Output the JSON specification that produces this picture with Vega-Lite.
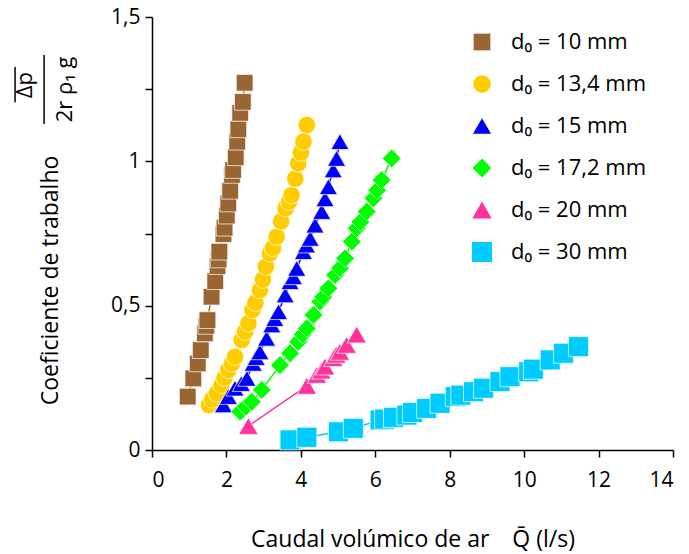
{
  "$schema": "https://vega.github.io/schema/vega-lite/v6.json",
  "width": 521,
  "height": 433,
  "autosize": {"type": "none"},
  "padding": {"left": 152, "top": 17, "right": 16, "bottom": 104},
  "background": "white",
  "config": {"view": {"stroke": null}, "font": "Open Sans"},
  "datasets": {
    "pts": [
      {"d0": "d₀ = 10 mm", "Q": 0.96, "coef": 0.185},
      {"d0": "d₀ = 10 mm", "Q": 1.11, "coef": 0.248},
      {"d0": "d₀ = 10 mm", "Q": 1.23, "coef": 0.300},
      {"d0": "d₀ = 10 mm", "Q": 1.31, "coef": 0.346},
      {"d0": "d₀ = 10 mm", "Q": 1.42, "coef": 0.404},
      {"d0": "d₀ = 10 mm", "Q": 1.46, "coef": 0.430},
      {"d0": "d₀ = 10 mm", "Q": 1.49, "coef": 0.450},
      {"d0": "d₀ = 10 mm", "Q": 1.60, "coef": 0.531},
      {"d0": "d₀ = 10 mm", "Q": 1.70, "coef": 0.585},
      {"d0": "d₀ = 10 mm", "Q": 1.76, "coef": 0.637},
      {"d0": "d₀ = 10 mm", "Q": 1.79, "coef": 0.660},
      {"d0": "d₀ = 10 mm", "Q": 1.81, "coef": 0.687},
      {"d0": "d₀ = 10 mm", "Q": 1.92, "coef": 0.748},
      {"d0": "d₀ = 10 mm", "Q": 1.95, "coef": 0.770},
      {"d0": "d₀ = 10 mm", "Q": 2.01, "coef": 0.812},
      {"d0": "d₀ = 10 mm", "Q": 2.05, "coef": 0.854},
      {"d0": "d₀ = 10 mm", "Q": 2.10, "coef": 0.898},
      {"d0": "d₀ = 10 mm", "Q": 2.15, "coef": 0.953},
      {"d0": "d₀ = 10 mm", "Q": 2.18, "coef": 0.970},
      {"d0": "d₀ = 10 mm", "Q": 2.25, "coef": 1.014},
      {"d0": "d₀ = 10 mm", "Q": 2.29, "coef": 1.068},
      {"d0": "d₀ = 10 mm", "Q": 2.32, "coef": 1.111},
      {"d0": "d₀ = 10 mm", "Q": 2.37, "coef": 1.168},
      {"d0": "d₀ = 10 mm", "Q": 2.44, "coef": 1.206},
      {"d0": "d₀ = 10 mm", "Q": 2.49, "coef": 1.272},

      {"d0": "d₀ = 13,4 mm", "Q": 1.53, "coef": 0.156},
      {"d0": "d₀ = 13,4 mm", "Q": 1.62, "coef": 0.175},
      {"d0": "d₀ = 13,4 mm", "Q": 1.74, "coef": 0.196},
      {"d0": "d₀ = 13,4 mm", "Q": 1.87, "coef": 0.225},
      {"d0": "d₀ = 13,4 mm", "Q": 1.95, "coef": 0.250},
      {"d0": "d₀ = 13,4 mm", "Q": 2.05, "coef": 0.277},
      {"d0": "d₀ = 13,4 mm", "Q": 2.15, "coef": 0.300},
      {"d0": "d₀ = 13,4 mm", "Q": 2.23, "coef": 0.323},
      {"d0": "d₀ = 13,4 mm", "Q": 2.41, "coef": 0.381},
      {"d0": "d₀ = 13,4 mm", "Q": 2.50, "coef": 0.410},
      {"d0": "d₀ = 13,4 mm", "Q": 2.59, "coef": 0.439},
      {"d0": "d₀ = 13,4 mm", "Q": 2.70, "coef": 0.485},
      {"d0": "d₀ = 13,4 mm", "Q": 2.78, "coef": 0.510},
      {"d0": "d₀ = 13,4 mm", "Q": 2.90, "coef": 0.554},
      {"d0": "d₀ = 13,4 mm", "Q": 2.98, "coef": 0.590},
      {"d0": "d₀ = 13,4 mm", "Q": 3.06, "coef": 0.635},
      {"d0": "d₀ = 13,4 mm", "Q": 3.17, "coef": 0.681},
      {"d0": "d₀ = 13,4 mm", "Q": 3.25, "coef": 0.700},
      {"d0": "d₀ = 13,4 mm", "Q": 3.35, "coef": 0.739},
      {"d0": "d₀ = 13,4 mm", "Q": 3.47, "coef": 0.792},
      {"d0": "d₀ = 13,4 mm", "Q": 3.59, "coef": 0.837},
      {"d0": "d₀ = 13,4 mm", "Q": 3.68, "coef": 0.860},
      {"d0": "d₀ = 13,4 mm", "Q": 3.75, "coef": 0.883},
      {"d0": "d₀ = 13,4 mm", "Q": 3.85, "coef": 0.940},
      {"d0": "d₀ = 13,4 mm", "Q": 3.93, "coef": 0.993},
      {"d0": "d₀ = 13,4 mm", "Q": 4.00, "coef": 1.030},
      {"d0": "d₀ = 13,4 mm", "Q": 4.07, "coef": 1.068},
      {"d0": "d₀ = 13,4 mm", "Q": 4.16, "coef": 1.126},

      {"d0": "d₀ = 15 mm", "Q": 1.92, "coef": 0.156},
      {"d0": "d₀ = 15 mm", "Q": 2.05, "coef": 0.185},
      {"d0": "d₀ = 15 mm", "Q": 2.23, "coef": 0.214},
      {"d0": "d₀ = 15 mm", "Q": 2.40, "coef": 0.230},
      {"d0": "d₀ = 15 mm", "Q": 2.55, "coef": 0.248},
      {"d0": "d₀ = 15 mm", "Q": 2.72, "coef": 0.300},
      {"d0": "d₀ = 15 mm", "Q": 2.80, "coef": 0.320},
      {"d0": "d₀ = 15 mm", "Q": 2.90, "coef": 0.340},
      {"d0": "d₀ = 15 mm", "Q": 3.08, "coef": 0.387},
      {"d0": "d₀ = 15 mm", "Q": 3.22, "coef": 0.433},
      {"d0": "d₀ = 15 mm", "Q": 3.30, "coef": 0.455},
      {"d0": "d₀ = 15 mm", "Q": 3.40, "coef": 0.479},
      {"d0": "d₀ = 15 mm", "Q": 3.58, "coef": 0.537},
      {"d0": "d₀ = 15 mm", "Q": 3.71, "coef": 0.583},
      {"d0": "d₀ = 15 mm", "Q": 3.80, "coef": 0.600},
      {"d0": "d₀ = 15 mm", "Q": 3.89, "coef": 0.629},
      {"d0": "d₀ = 15 mm", "Q": 4.07, "coef": 0.687},
      {"d0": "d₀ = 15 mm", "Q": 4.15, "coef": 0.710},
      {"d0": "d₀ = 15 mm", "Q": 4.25, "coef": 0.733},
      {"d0": "d₀ = 15 mm", "Q": 4.38, "coef": 0.779},
      {"d0": "d₀ = 15 mm", "Q": 4.56, "coef": 0.826},
      {"d0": "d₀ = 15 mm", "Q": 4.65, "coef": 0.870},
      {"d0": "d₀ = 15 mm", "Q": 4.74, "coef": 0.912},
      {"d0": "d₀ = 15 mm", "Q": 4.87, "coef": 0.970},
      {"d0": "d₀ = 15 mm", "Q": 4.96, "coef": 1.010},
      {"d0": "d₀ = 15 mm", "Q": 5.05, "coef": 1.068},

      {"d0": "d₀ = 17,2 mm", "Q": 2.37, "coef": 0.133},
      {"d0": "d₀ = 17,2 mm", "Q": 2.52, "coef": 0.150},
      {"d0": "d₀ = 17,2 mm", "Q": 2.68, "coef": 0.167},
      {"d0": "d₀ = 17,2 mm", "Q": 2.95, "coef": 0.208},
      {"d0": "d₀ = 17,2 mm", "Q": 3.44, "coef": 0.294},
      {"d0": "d₀ = 17,2 mm", "Q": 3.71, "coef": 0.335},
      {"d0": "d₀ = 17,2 mm", "Q": 3.93, "coef": 0.375},
      {"d0": "d₀ = 17,2 mm", "Q": 4.05, "coef": 0.400},
      {"d0": "d₀ = 17,2 mm", "Q": 4.16, "coef": 0.421},
      {"d0": "d₀ = 17,2 mm", "Q": 4.34, "coef": 0.468},
      {"d0": "d₀ = 17,2 mm", "Q": 4.52, "coef": 0.514},
      {"d0": "d₀ = 17,2 mm", "Q": 4.60, "coef": 0.530},
      {"d0": "d₀ = 17,2 mm", "Q": 4.74, "coef": 0.560},
      {"d0": "d₀ = 17,2 mm", "Q": 4.92, "coef": 0.606},
      {"d0": "d₀ = 17,2 mm", "Q": 5.05, "coef": 0.630},
      {"d0": "d₀ = 17,2 mm", "Q": 5.19, "coef": 0.664},
      {"d0": "d₀ = 17,2 mm", "Q": 5.37, "coef": 0.722},
      {"d0": "d₀ = 17,2 mm", "Q": 5.50, "coef": 0.768},
      {"d0": "d₀ = 17,2 mm", "Q": 5.60, "coef": 0.790},
      {"d0": "d₀ = 17,2 mm", "Q": 5.77, "coef": 0.826},
      {"d0": "d₀ = 17,2 mm", "Q": 5.95, "coef": 0.872},
      {"d0": "d₀ = 17,2 mm", "Q": 6.05, "coef": 0.900},
      {"d0": "d₀ = 17,2 mm", "Q": 6.17, "coef": 0.935},
      {"d0": "d₀ = 17,2 mm", "Q": 6.44, "coef": 1.010},

      {"d0": "d₀ = 20 mm", "Q": 2.59, "coef": 0.083},
      {"d0": "d₀ = 20 mm", "Q": 4.16, "coef": 0.222},
      {"d0": "d₀ = 20 mm", "Q": 4.43, "coef": 0.260},
      {"d0": "d₀ = 20 mm", "Q": 4.55, "coef": 0.275},
      {"d0": "d₀ = 20 mm", "Q": 4.65, "coef": 0.289},
      {"d0": "d₀ = 20 mm", "Q": 4.87, "coef": 0.318},
      {"d0": "d₀ = 20 mm", "Q": 4.95, "coef": 0.330},
      {"d0": "d₀ = 20 mm", "Q": 5.05, "coef": 0.340},
      {"d0": "d₀ = 20 mm", "Q": 5.23, "coef": 0.364},
      {"d0": "d₀ = 20 mm", "Q": 5.50, "coef": 0.400},

      {"d0": "d₀ = 30 mm", "Q": 3.71, "coef": 0.035},
      {"d0": "d₀ = 30 mm", "Q": 4.16, "coef": 0.044},
      {"d0": "d₀ = 30 mm", "Q": 5.01, "coef": 0.063},
      {"d0": "d₀ = 30 mm", "Q": 5.41, "coef": 0.075},
      {"d0": "d₀ = 30 mm", "Q": 6.13, "coef": 0.104},
      {"d0": "d₀ = 30 mm", "Q": 6.25, "coef": 0.107},
      {"d0": "d₀ = 30 mm", "Q": 6.49, "coef": 0.113},
      {"d0": "d₀ = 30 mm", "Q": 6.85, "coef": 0.121},
      {"d0": "d₀ = 30 mm", "Q": 7.00, "coef": 0.130},
      {"d0": "d₀ = 30 mm", "Q": 7.38, "coef": 0.144},
      {"d0": "d₀ = 30 mm", "Q": 7.74, "coef": 0.162},
      {"d0": "d₀ = 30 mm", "Q": 8.15, "coef": 0.185},
      {"d0": "d₀ = 30 mm", "Q": 8.30, "coef": 0.190},
      {"d0": "d₀ = 30 mm", "Q": 8.64, "coef": 0.202},
      {"d0": "d₀ = 30 mm", "Q": 8.91, "coef": 0.214},
      {"d0": "d₀ = 30 mm", "Q": 9.35, "coef": 0.237},
      {"d0": "d₀ = 30 mm", "Q": 9.62, "coef": 0.254},
      {"d0": "d₀ = 30 mm", "Q": 10.12, "coef": 0.271},
      {"d0": "d₀ = 30 mm", "Q": 10.25, "coef": 0.280},
      {"d0": "d₀ = 30 mm", "Q": 10.70, "coef": 0.312},
      {"d0": "d₀ = 30 mm", "Q": 11.06, "coef": 0.335},
      {"d0": "d₀ = 30 mm", "Q": 11.46, "coef": 0.358}
    ],
    "one": [{"k": 1}]
  },
  "layer": [
    {
      "data": {"name": "pts"},
      "mark": {"type": "line", "strokeWidth": 1.5},
      "encoding": {
        "x": {
          "field": "Q", "type": "quantitative",
          "scale": {"domain": [0, 14], "nice": false, "zero": false},
          "axis": {
            "values": [0, 2, 4, 6, 8, 10, 12, 14],
            "title": "Caudal volúmico de ar\u2003Q̄ (l/s)",
            "grid": false,
            "domainColor": "#000", "domainWidth": 1.5,
            "tickColor": "#000", "tickWidth": 1.5, "tickSize": 7,
            "labelFontSize": 21, "labelColor": "#000", "labelPadding": 12,
            "labelFont": "Open Sans",
            "titleFont": "Open Sans", "titleFontSize": 23, "titleFontWeight": "normal",
            "titleColor": "#000", "titleBaseline": "alphabetic", "titleY": 96
          }
        },
        "y": {
          "field": "coef", "type": "quantitative",
          "scale": {"domain": [0, 1.5], "nice": false, "zero": false},
          "axis": {
            "values": [0, 0.25, 0.5, 0.75, 1, 1.25, 1.5],
            "labelExpr": "datum.value == 0 ? '0' : datum.value == 0.5 ? '0,5' : datum.value == 1 ? '1' : datum.value == 1.5 ? '1,5' : ''",
            "title": "Coeficiente de trabalho",
            "grid": false,
            "domainColor": "#000", "domainWidth": 1.5,
            "tickColor": "#000", "tickWidth": 1.5, "tickSize": 7,
            "labelFontSize": 21, "labelColor": "#000", "labelPadding": 5,
            "labelFont": "Open Sans",
            "titleFont": "Open Sans", "titleFontSize": 23, "titleFontWeight": "normal",
            "titleColor": "#000", "titleBaseline": "alphabetic",
            "titleX": -95, "titleY": 263, "titleAngle": 270
          }
        },
        "color": {
          "field": "d0", "type": "nominal",
          "scale": {
            "domain": ["d₀ = 10 mm", "d₀ = 13,4 mm", "d₀ = 15 mm", "d₀ = 17,2 mm", "d₀ = 20 mm", "d₀ = 30 mm"],
            "range": ["#996633", "#FFCC00", "#0000FF", "#00FF00", "#FF3399", "#00CCFF"]
          }
        },
        "detail": {"field": "d0"}
      }
    },
    {
      "data": {"name": "pts"},
      "mark": {"type": "point", "filled": true, "opacity": 1, "stroke": "white", "strokeWidth": 0.7},
      "encoding": {
        "x": {"field": "Q", "type": "quantitative"},
        "y": {"field": "coef", "type": "quantitative"},
        "color": {
          "field": "d0", "type": "nominal",
          "legend": {
            "orient": "none", "legendX": 319, "legendY": 14,
            "title": null, "padding": 0,
            "labelFont": "Open Sans", "labelFontSize": 22, "labelColor": "#000",
            "symbolSize": 290, "rowPadding": 20, "labelOffset": 18,
            "symbolStrokeWidth": 0
          }
        },
        "shape": {
          "field": "d0", "type": "nominal",
          "scale": {
            "domain": ["d₀ = 10 mm", "d₀ = 13,4 mm", "d₀ = 15 mm", "d₀ = 17,2 mm", "d₀ = 20 mm", "d₀ = 30 mm"],
            "range": ["square", "circle", "triangle-up", "diamond", "triangle-up", "square"]
          }
        },
        "size": {
          "field": "d0", "type": "nominal", "legend": null,
          "scale": {
            "domain": ["d₀ = 10 mm", "d₀ = 13,4 mm", "d₀ = 15 mm", "d₀ = 17,2 mm", "d₀ = 20 mm", "d₀ = 30 mm"],
            "range": [280, 400, 400, 450, 400, 280]
          }
        }
      }
    },
    {
      "data": {"name": "one"},
      "mark": {"type": "text", "text": "Δp", "angle": 270, "align": "center", "baseline": "alphabetic", "fontSize": 22, "font": "Open Sans", "color": "#000"},
      "encoding": {"x": {"datum": -3.23}, "y": {"datum": 1.264}}
    },
    {
      "data": {"name": "one"},
      "mark": {"type": "text", "text": "2r ρ₁ g", "angle": 270, "align": "center", "baseline": "alphabetic", "fontSize": 22, "font": "Open Sans", "color": "#000"},
      "encoding": {"x": {"datum": -2.15}, "y": {"datum": 1.249}}
    },
    {
      "data": {"name": "one"},
      "mark": {"type": "rule", "color": "#000", "strokeWidth": 1.5},
      "encoding": {"x": {"datum": -2.9}, "y": {"datum": 1.129}, "y2": {"datum": 1.368}}
    },
    {
      "data": {"name": "one"},
      "mark": {"type": "rule", "color": "#000", "strokeWidth": 1.5},
      "encoding": {"x": {"datum": -3.68}, "y": {"datum": 1.205}, "y2": {"datum": 1.327}}
    }
  ]
}
